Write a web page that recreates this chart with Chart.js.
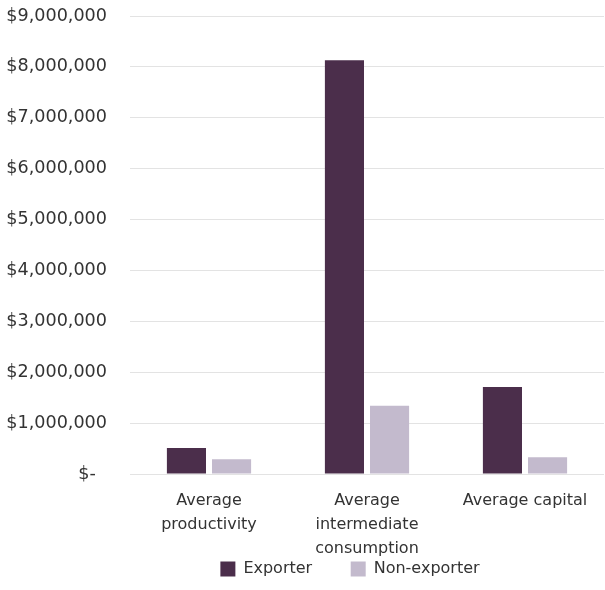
<!DOCTYPE html>
<html>
<head>
<meta charset="utf-8">
<script src="https://cdn.jsdelivr.net/npm/chart.js@4"></script>
<style>
    html, body { margin: 0; padding: 0; background: #fff; }
    #wrap { width: 605px; height: 590px; }
</style>
</head>
<body>
<div id="wrap"><canvas id="chart"></canvas></div>
<script>
// chart data
const categories = [['Average', 'productivity'], ['Average', 'intermediate', 'consumption'], 'Average capital'];
const seriesNames = ['Exporter', 'Non-exporter'];
const exporterValues = [510000, 8130000, 1710000];
const nonExporterValues = [290000, 1340000, 330000];
const yTicks = [0, 1000000, 2000000, 3000000, 4000000, 5000000, 6000000, 7000000, 8000000, 9000000];

const textColor = '#333333';
const gridColor = '#e3e3e3';

function formatDollar(value) {
    if (value === 0) return '$-  ';
    return '$' + value.toLocaleString('en-US');
}

// legend in the original sits a little right of centre and tucked up under the labels
const legendShift = {
    id: 'legendShift',
    afterLayout(chart) {
        const lg = chart.legend;
        if (!lg) return;
        lg.left += 45;
        lg.right += 45;
        lg.top -= 3;
        lg.bottom -= 3;
    }
};

document.addEventListener('DOMContentLoaded', function() {
    const ctx = document.getElementById('chart').getContext('2d');
    new Chart(ctx, {
        type: 'bar',
        data: {
            labels: categories,
            datasets: [{
                label: seriesNames[0],
                data: exporterValues,
                backgroundColor: '#4b2e4b'
            }, {
                label: seriesNames[1],
                data: nonExporterValues,
                backgroundColor: '#c3bacd'
            }]
        },
        plugins: [legendShift],
        options: {
            responsive: true,
            maintainAspectRatio: false,
            animation: false,
            devicePixelRatio: 1,
            categoryPercentage: 0.571,
            barPercentage: 0.867,
            layout: {
                padding: { left: 6, right: 1, top: 16, bottom: 0 }
            },
            plugins: {
                tooltip: { enabled: false },
                legend: {
                    position: 'bottom',
                    labels: {
                        color: textColor,
                        font: { family: 'DejaVu Sans', size: 16 },
                        boxWidth: 15,
                        boxHeight: 15,
                        padding: 8,
                        generateLabels(chart) {
                            const items = Chart.defaults.plugins.legend.labels.generateLabels(chart);
                            items[0].text = items[0].text + '      ';
                            items.forEach(it => { it.lineWidth = 0; });
                            return items;
                        }
                    }
                }
            },
            scales: {
                x: {
                    grid: { display: false, drawTicks: false },
                    border: { display: false },
                    ticks: {
                        color: textColor,
                        font: { family: 'DejaVu Sans', size: 16, lineHeight: 1.5 },
                        padding: 15,
                        maxRotation: 0,
                        autoSkip: false
                    },
                    afterFit(axis) {
                        axis.height = 82;
                        axis.paddingLeft = 0;
                        axis.paddingRight = 0;
                    }
                },
                y: {
                    min: 0,
                    max: 9000000,
                    afterBuildTicks(axis) {
                        axis.ticks = yTicks.map(v => ({ value: v }));
                    },
                    grid: { color: gridColor, lineWidth: 1, drawTicks: false },
                    border: { display: false },
                    ticks: {
                        color: textColor,
                        font: { family: 'DejaVu Sans', size: 17.6 },
                        padding: 23,
                        callback: formatDollar
                    },
                    afterFit(axis) {
                        axis.width = 124;
                        axis.paddingTop = 0;
                        axis.paddingBottom = 0;
                    }
                }
            }
        }
    });
});
</script>
</body>
</html>
